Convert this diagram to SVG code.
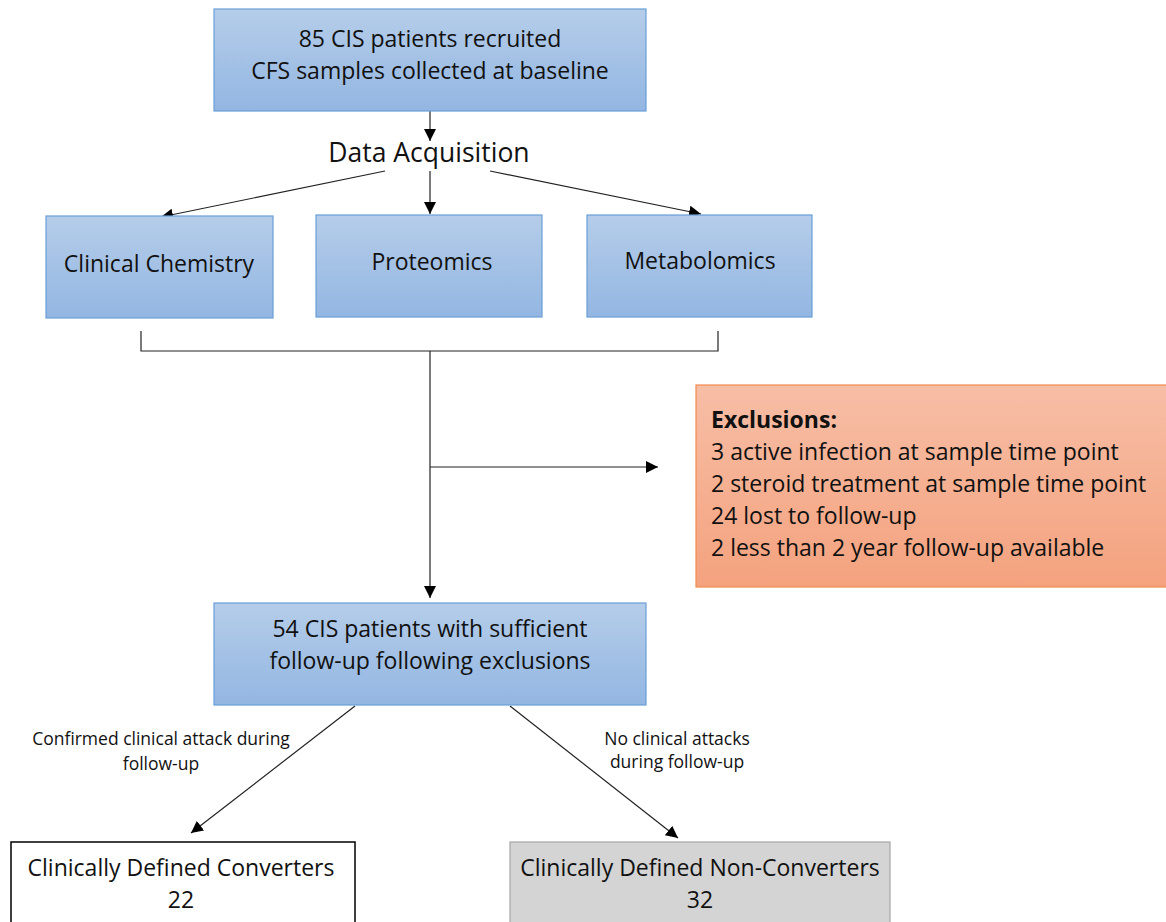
<svg xmlns="http://www.w3.org/2000/svg" width="1166" height="922" viewBox="0 0 1166 922">
<defs>
<linearGradient id="blue" x1="0" y1="0" x2="0" y2="1"><stop offset="0" stop-color="#b5cde9"/><stop offset="1" stop-color="#93b6e2"/></linearGradient>
<linearGradient id="orange" x1="0" y1="0" x2="0" y2="1"><stop offset="0" stop-color="#f7bea6"/><stop offset="1" stop-color="#f4a27e"/></linearGradient>
<marker id="arr" viewBox="0 0 12 12" refX="12" refY="6" markerWidth="12" markerHeight="12" markerUnits="userSpaceOnUse" orient="auto"><path d="M0,0 L12,6 L0,12 z" fill="#000"/></marker>
<style>
.t{font-family:"Open Sans",Lato,sans-serif;fill:#111;}
.m{font-size:23px;}
.s{font-size:17.5px;}
.bx{fill:url(#blue);stroke:#6a9fd8;stroke-width:1.2;}
.c{fill:none;stroke:#222;stroke-width:1.2;}
</style>
</defs>
<g id="connectors">
<line class="c" x1="430" y1="111" x2="430" y2="141" marker-end="url(#arr)"/>
<line class="c" x1="385" y1="171" x2="161" y2="217" marker-end="url(#arr)"/>
<line class="c" x1="430" y1="171" x2="430" y2="214" marker-end="url(#arr)"/>
<line class="c" x1="490" y1="171" x2="701" y2="214" marker-end="url(#arr)"/>
<polyline class="c" points="141,331 141,351 718,351 718,331"/>
<line class="c" x1="430" y1="351" x2="430" y2="598" marker-end="url(#arr)"/>
<line class="c" x1="430" y1="467" x2="658" y2="467" marker-end="url(#arr)"/>
<line class="c" x1="355" y1="706" x2="191" y2="833" marker-end="url(#arr)"/>
<line class="c" x1="510" y1="706" x2="678" y2="838" marker-end="url(#arr)"/>
<text class="t s" text-anchor="middle" x="161" y="745">Confirmed clinical attack during</text>
<text class="t s" text-anchor="middle" x="161" y="770">follow-up</text>
<text class="t s" text-anchor="middle" x="677" y="745">No clinical attacks</text>
<text class="t s" text-anchor="middle" x="677" y="768">during follow-up</text>
</g>
<g id="recruited">
<rect class="bx" x="214" y="9" width="432" height="102"/>
<text class="t m" text-anchor="middle" x="430" y="47">85 CIS patients recruited</text>
<text class="t m" text-anchor="middle" x="430" y="79">CFS samples collected at baseline</text>
</g>
<g id="data-acquisition">
<text class="t" font-size="26.5" text-anchor="middle" x="429" y="162">Data Acquisition</text>
</g>
<g id="clinical-chemistry">
<rect class="bx" x="46" y="216" width="227" height="102"/>
<text class="t m" text-anchor="middle" x="159" y="272">Clinical Chemistry</text>
</g>
<g id="proteomics">
<rect class="bx" x="316" y="215" width="226" height="102"/>
<text class="t m" text-anchor="middle" x="432" y="270">Proteomics</text>
</g>
<g id="metabolomics">
<rect class="bx" x="587" y="215" width="225" height="102"/>
<text class="t m" text-anchor="middle" x="700" y="269">Metabolomics</text>
</g>
<g id="exclusions">
<rect x="696" y="385" width="480" height="202" fill="url(#orange)" stroke="#f08a50" stroke-width="1.2"/>
<text class="t m" x="711" y="428" font-weight="bold">Exclusions:</text>
<text class="t m" x="711" y="460">3 active infection at sample time point</text>
<text class="t m" x="711" y="492">2 steroid treatment at sample time point</text>
<text class="t m" x="711" y="524">24 lost to follow-up</text>
<text class="t m" x="711" y="556">2 less than 2 year follow-up available</text>
</g>
<g id="sufficient">
<rect class="bx" x="214" y="603" width="432" height="102"/>
<text class="t m" text-anchor="middle" x="430" y="637">54 CIS patients with sufficient</text>
<text class="t m" text-anchor="middle" x="430" y="669">follow-up following exclusions</text>
</g>
<g id="converters">
<rect x="11" y="842" width="344" height="90" fill="#fff" stroke="#000" stroke-width="1.5"/>
<text class="t m" text-anchor="middle" x="181" y="876">Clinically Defined Converters</text>
<text class="t m" text-anchor="middle" x="181" y="908">22</text>
</g>
<g id="non-converters">
<rect x="510" y="842" width="380" height="90" fill="#d4d4d4" stroke="#a6a6a6" stroke-width="1.2"/>
<text class="t m" text-anchor="middle" x="700" y="876">Clinically Defined Non-Converters</text>
<text class="t m" text-anchor="middle" x="700" y="908">32</text>
</g>
</svg>
